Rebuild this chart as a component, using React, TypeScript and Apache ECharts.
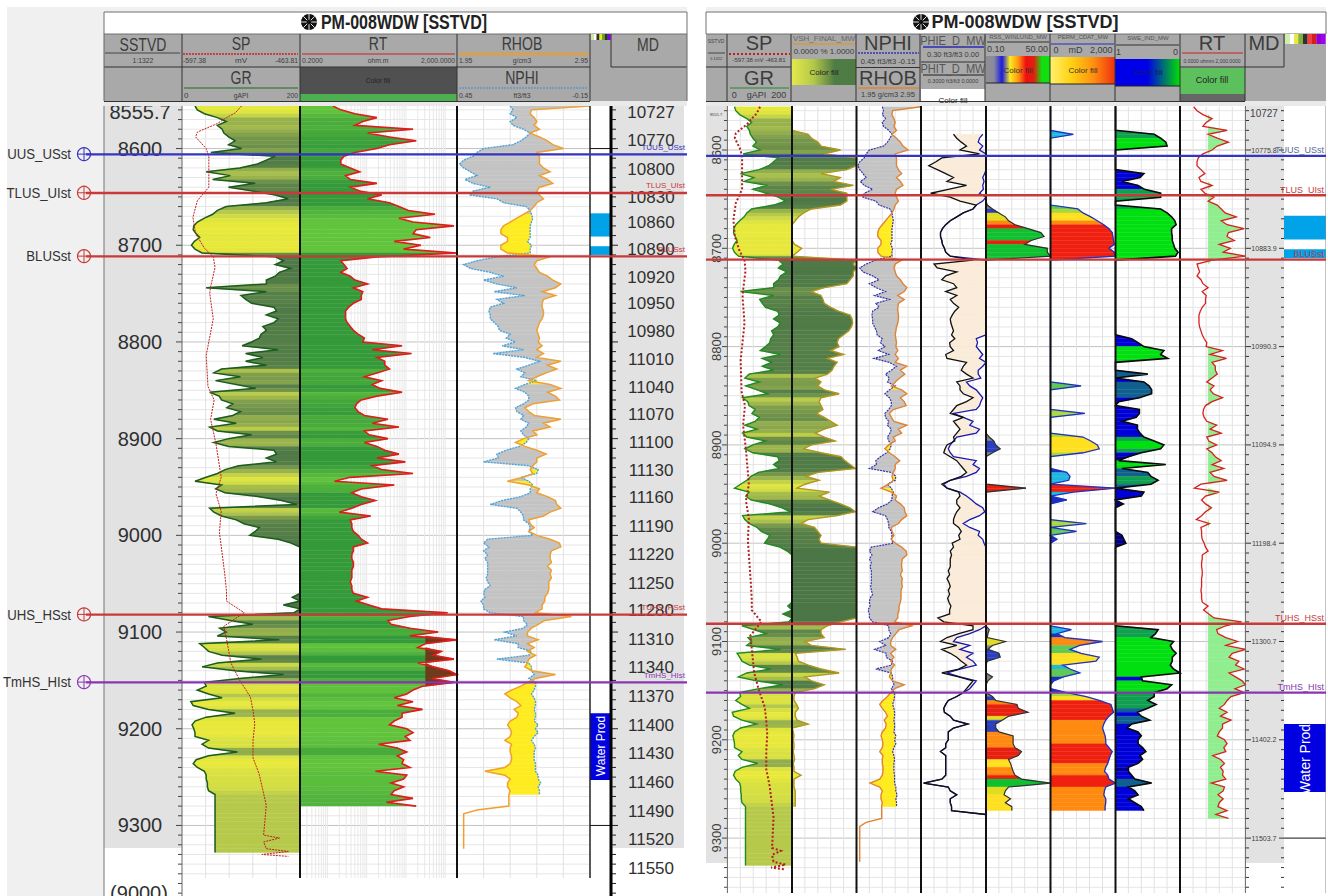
import React, { useEffect, useRef } from "react";
import * as echarts from "echarts";

// ---------- data: samples every 4 ft of SSTVD, starting at this depth ----------
const firstDepth = 8556;
const depthStep = 4;
const blank = (n: number) => new Array(n).fill(0);

const grApi = [
  22,26,38,60,75, 60,68,71,79,90, 79,101,49,158,143, 128,98,41,82,52, 124,79,120,158,180,
  143,75,60,52,38, 26,20,19,24,30, 21,16,22,34,158, 172,158,184,165,158, 143,143,41,143,100,
  108,118,156,160,143, 163,156,137,143,134, 131,118,102,163,108, 137,108,143,67,54, 99,57,92,125,47,
  63,67,86,76,99, 86,54,92,47,60, 118,79,54,79,156, 160,143,160,96,73, 60,41,22,67,57,
  73,131,169,195,47, 54,67,92,105,131, 124,115,163,185,200, 200,200,200,200,200, 200,200,200,200,200,
  200,200,187,200,172, 200,190,45,82,120, 64,75,60,165,30, 38,45,68,135,60, 34,90,172,98,38,
  41,26,45,68,15, 19,45,90,41,22, 17,20,22,22,45, 34,45,94,45,24, 19,26,38,41,41,
  43,43,45,56,56, 56,56,56,56,56, 56,56,56,56,56, 56,56,56,56,
];
const spDepths = [8556,8563,8568,8574,8583,8588,8600,8608,8619,8640,8654,8671,8688,8703,8712,8723,8743,8750,8776,8814,8846,8860,8880,8905,8940,8957,8975,8997,9040,9058,9068,9080,9094,9107,9132,9150,9167,9181,9195,9212,9230,9247,9279,9310,9313,9317,9324,9327,9330,9332];
const spMv = [-530,-537,-547,-557,-580,-582,-570,-567,-567,-567,-580,-585,-582,-572,-562,-560,-565,-566,-562,-570,-568,-561,-565,-559,-553,-559,-553,-555,-549,-547,-547,-527,-550,-547,-542,-532,-520,-517,-515,-517,-517,-510,-502,-505,-487,-505,-502,-477,-507,-477];
// positions below are percent of the track width on its printed scale
const rtPct = [
  21,26,35,49,40, 35,72,43,57,74, 57,49,35,28,26, 26,32,38,29,32, 49,32,38,52,43,
  57,63,69,86,63, 72,98,74,72,83, 60,77,66,100,49, 26,28,30,26,32, 35,43,34,40,39,
  39,34,31,29,29, 29,30,32,34,37, 41,40,65,46,71, 49,54,54,57,49, 41,52,46,51,65,
  49,39,36,35,37, 41,56,46,63,41, 44,56,41,49,54, 63,49,67,46,52, 72,32,22,60,39,
  33,39,48,39,33, 25,45,32,33,33, 34,37,39,43,34, 34,33,33,34,34, 33,33,33,32,33,
  33,34,43,36,44, 52,94,70,56,58, 70,88,70,100,80, 75,90,85,98,75, 85,95,100,84,98,
  78,72,68,60,72, 62,78,65,65,60, 57,68,72,67,70, 50,62,68,62,66, 65,70,48,68,66,
  58,66,60,58,72, 55,74,
];
const rhobPct = [
  100,56,55,58,60, 58,62,55,62,68, 72,80,60,62,62, 62,65,70,62,68, 72,62,60,62,65,
  60,58,55,50,45, 40,35,33,33,38, 38,33,33,38,70, 60,58,60,62,68, 72,78,74,64,74,
  65,64,64,65,65, 64,62,61,60,61, 62,61,64,60,65, 60,78,68,75,67, 60,54,70,78,68,
  74,77,57,51,54, 58,78,65,70,57, 60,50,44,51,60, 67,60,60,57,55, 57,50,38,54,62,
  60,68,74,75,78, 70,65,54,55,58, 54,60,70,77,78, 71,70,70,71,68, 71,70,71,69,69,
  69,68,66,66,64, 64,59,86,66,61, 56,53,53,61,53, 58,53,59,54,53, 51,56,74,59,53,
  48,41,36,40,45, 48,43,46,45,40, 38,40,41,40,36, 41,40,40,41,41, 40,36,21,36,40,
  38,38,40,39,39, 39,39,15,5,5, 5,5,5,5,5, 5,5,5,
];
const nphiPct = [
  40,42,40,45,40, 42,50,55,52,48, 42,20,15,12,5, 2,5,10,15,6, 12,25,12,10,30,
  35,52,55,56,57, 56,55,55,55,55, 53,56,55,55,30, 15,5,10,25,35, 20,30,45,28,51,
  30,35,25,24,25, 25,28,31,32,40, 37,44,34,50,27, 51,62,54,45,51, 48,60,51,44,51,
  54,54,50,44,45, 50,48,54,52,48, 50,54,52,47,37, 30,31,20,54,61, 60,48,54,57,55,
  55,48,34,25,45, 48,50,50,54,55, 54,57,23,20,24, 20,23,21,23,23, 23,23,22,23,25,
  21,20,21,18,20, 20,25,50,50,53, 50,36,45,28,46, 46,56,54,30,54, 56,56,58,54,59,
  59,58,56,58,59, 59,58,59,59,58, 61,59,61,58,56, 58,59,58,58,58, 59,59,59,61,61,
  63,61,62,62,
];
const vshFinal = [
  0,0,0,0,0, 0,0,.25,.3,.4, .45,.75,.5,1,1, 1,.85,.45,.75,.65, .95,.6,.85,.85,.85,
  .75,.3,.18,.1,.05, 0,0,0,0,0, .04,.15,.08,0,1, .95,1,.95,.95,.9, .85,.5,.3,.45,.48,
  .5,.6,.72,.9,.93, .94,.92,.88,.8,.72, .7,.73,.6,.8,.55, .7,.65,.62,.55,.36, .45,.4,.5,.73,.45,
  .42,.45,.48,.38,.5, .6,.7,.5,.36,.5, .67,.3,.18,.45,.76, .82,.9,.98,.4,.22, .42,.2,.08,.58,.42,
  .58,.75,.9,.98,.7, .25,.14,.35,.4,.45, .42,.45,1,1,1, 1,1,1,1,1, 1,1,1,1,1,
  1,1,1,1,1, 1,.75,.55,.45,.45, .5,.2,.3,.83,.05, .08,.1,.25,.45,.73, .2,.3,.5,.35,.05,
  .03,.03,.07,.1,.05, .05,.08,.25,0,.02, .03,.02,.03,.03,.02, .03,.04,.02,.03,.03, .14,.03,.03,.03,.05,
  .05,.05,.05,.05,
];
const _ = null;
const phitPos = [
  _,_,_,_,_, _,_,.5,.55,.62, .7,.6,.9,.32,.23, .12,.25,.38,.5,.4, .7,.42,.15,.45,.6,
  .85,.8,.65,.55,.45, .38,.33,.3,.3,.32, .33,.36,.38,.45,.8, .2,.25,.55,.38,.32, .5,.55,.38,.55,.45,
  .5,.58,.52,.48,.45, .46,.48,.5,.47,.52, .44,.45,.5,.38,.4, .7,.65,.62,.7,.8, .55,.6,.6,.65,.8,
  .7,.55,.5,.45,.65, .5,.55,.6,.55,.5, .52,.4,.37,.35,.45, .55,.6,.65,.7,.62, .45,.32,.4,.58,.6,
  .55,.55,.6,.55,.52, .5,.5,.58,.62,.58, .6,.48,.5,.45,.47, .45,.45,.45,.42,.44, .4,.43,.45,.42,.44,
  .41,.43,.46,.44,.44, .26,.35,.8,.8,.58, .4,.3,.55,.32,.45, .55,.62,.7,.58,.32, .58,.8,.75,.7,.65,
  .55,.42,.38,.35,.36, .45,.5,.72,.5,.42, .42,.42,.38,.38,.3, .38,.38,.38,.38,.38, .38,.32,.04,.42,.45,
  .55,.45,.45,.47,.47,1,
];
const phiePos = [
  _,_,_,_,_, _,_,.95,.9,.88, .95,.9,1,1,1, 1,1,.98,.95,.97, .95,.96,.9,1,.95,
  .85,.8,.65,.55,.45, .38,.33,.3,.3,.32, .33,.36,.38,.45,1, 1,1,1,1,1, 1,1,1,1,1,
  1,1,1,1,1, 1,1,1,1,.85, .87,.85,.9,.95,.9, 1,.95,.88,.88,.92, .7,.75,.85,.9,.95,
  .92,.9,.85,.5,.65, .8,.75,.9,.85,.55, .5,.45,.42,.45,.5, .85,.8,.9,.85,.7, .45,.35,.4,.6,.7,
  .78,.85,.95,.98,.9, .75,.65,.75,.9,.88, .95,.97,1,1,1, 1,1,1,1,1, 1,1,1,1,1,
  1,1,1,1,1, 1,1,1,.9,.75, .55,.5,.75,.6,.8, .7,.8,.85,.6,.4, .6,.85,.8,.75,.65,
  .55,.42,.38,.35,.36, .45,.5,.72,.5,.42, .42,.42,.38,.38,.3, .38,.38,.38,.38,.38, .38,.32,.04,.42,.45,
  .55,.45,.45,.47,.47,1,
];
const rssPos = [
  ...blank(25),
  .02,.1,.2,.3,.35, .45,.65,.85,.9,.7, .6,.95,.95,1,0, ...blank(10),
  ...blank(25),
  0,0,0,0,0, 0,0,0,0,.05, .12,.15,.22,.1,0, 0,0,0,0,0, 0,0,.62,0,0,
  ...blank(25),
  0,0,0,0,0, 0,0,0,.05,.03, .02,.3,.1,.03,.2, .22,.02,0,0,0, .1,.03,0,0,0,
  .1,.15,.48,.5,.65, .35,.25,.15,.15,.2, .42,.42,.42,.45,.55, .5,.35,.38,.4,.42, .45,.55,1,.35,.3,
  .28,.38,.3,.4,.4,
];
const permPos = [
  0,0,0,0,0, 0,0,.35,0,0, ...blank(15),
  0,.42,.5,.62,.72, .82,.9,.95,.96,.97, .98,.9,.98,1,0, ...blank(10),
  ...blank(20), 0,.47,0,0,0,
  0,0,0,.53,0, 0,0,0,0,.5, .62,.72,.75,.5,0, 0,0,0,.25,.3, .28,0,1,.35,0,
  .25,0,0,0,0, 0,.55,0,.4,0, .1,0,0,0,0, ...blank(10),
  0,0,0,0,0, 0,0,0,.32,.1, .22,.8,.45,.3,.47, .75,.7,.19,.3,.45, .2,.05,0,0,.25,
  .55,.75,.93,.95,.97, .9,.85,.82,.8,.82, .84,.85,.85,.9,.95, .92,.9,.88,.85,.83, .88,.9,1,.85,.83,
  .82,.85,.85,.84,.84,
];
const swePos = [
  0,0,0,0,0, 0,0,.6,.7,.78, .8,0,0,0,0, 0,0,.44,.38,.1, .35,.45,.7,.7,0,
  0,.7,.8,.87,.92, .94,.87,.87,.88,.88, .9,.92,.97,.93,0, ...blank(10),
  0,0,0,0,0, 0,0,0,0,.25, .35,.44,.75,.7,.81, 0,0,0,.5,0, .44,.52,.56,.56,.37,
  .05,0,.37,.37,.32, .1,.34,.34,.38,.44, .6,.75,.7,.4,.2, .05,.78,.1,.5,.55, .66,.55,0,.44,.4,
  0,.12,0,0,0, 0,0,0,0,.1, .13,.16,0,0,0, ...blank(10),
  0,0,0,0,0, 0,0,0,.66,.62, .55,.9,.85,.88,.94, .88,.88,.85,.9,1, .4,.42,.87,.8,.6,
  .6,.5,.63,.5,.34, .4,.53,.25,.18,.35, .4,.35,.35,.42,.47, .38,.42,.35,.2,.2, .25,.3,.56,.2,.3,
  .35,.2,.3,.4,.44,
];

const topDepths = [8606, 8646, 8711.5, 9082, 9152];
const topColors = ["#3535c0", "#c83a3a", "#c83a3a", "#c83a3a", "#8a35b0"];
const topLeftNames = ["UUS_USst", "TLUS_UIst", "BLUSst", "UHS_HSst", "TmHS_HIst"];
const topRightNames = ["TUUS_USst", "TLUS_UIst", "BLUSst", "TUHS_HSst", "TmHS_HIst"];
const zoneTops = [8667, 8701, 9184];
const zoneBases = [8691, 8710, 9253];
const zoneColors = ["#00a2e8", "#00a2e8", "#0000e0"];
const sstvdTicks = [8562.4, 8600, 8700, 8800, 8900, 9000, 9100, 9200, 9300];
const sstvdText = ["8555.7", "8600", "8700", "8800", "8900", "9000", "9100", "9200", "9300"];
const mdTickDepths = [8562.4,8591.4,8621.4,8650.4,8676.2,8704.1,8733.1,8760,8789,8818,8846.9,8874.8,8903.7,8932.7,8960.6,8990.6,9019.6,9049.5,9077.4,9107.4,9136.4,9166.4,9196.3,9225.3,9255.3,9285.3,9314.2,9344.2];
const mdText = ["10727","10770","10800","10830","10860","10890","10920","10950","10980","11010","11040","11070","11100","11130","11160","11190","11220","11250","11280","11310","11340","11370","11400","11430","11460","11490","11520","11550"];
const mdRightDepths = [8562.4, 8600, 8700, 8800, 8900, 9000, 9100, 9200, 9300];
const mdRightText = ["10727", "10775.8", "10883.9", "10990.3", "11094.9", "11198.4", "11300.7", "11402.2", "11503.7"];

const SANS = "'Liberation Sans', Arial, sans-serif";
const dep = (i: number) => firstDepth + depthStep * i;

function mix(stops: [number, number[]][], v: number) {
  if (v <= stops[0][0]) return `rgb(${stops[0][1].join(",")})`;
  for (let i = 1; i < stops.length; i++) {
    if (v <= stops[i][0]) {
      const t = (v - stops[i - 1][0]) / (stops[i][0] - stops[i - 1][0]);
      const c = stops[i][1].map((x, k) => Math.round(stops[i - 1][1][k] + (x - stops[i - 1][1][k]) * t));
      return `rgb(${c.join(",")})`;
    }
  }
  return `rgb(${stops[stops.length - 1][1].join(",")})`;
}
const grShade = (g: number) => mix([[22,[232,233,58]],[42,[214,224,66]],[58,[178,198,76]],[78,[124,156,76]],[105,[88,130,72]],[185,[76,118,70]]], g);
const rtShade = (g: number) => mix([[30,[98,196,60]],[60,[80,178,60]],[95,[52,154,58]]], g);
const rssShade = (q: number) => q < .13 ? "#858585" : q < .28 ? "#2a3fc0" : q < .36 ? "#e0dc20" : q < .42 ? "#ffe020" : q < .5 ? "#ff8a10" : q < .8 ? "#e82010" : "#10c030";
const permShade = (q: number) => q < .27 ? "#1a30c0" : q < .38 ? "#20b8e0" : q < .5 ? "#60c858" : q < .62 ? "#a8d840" : q < .78 ? "#ffe020" : q < .9 ? "#ff8a10" : "#f02010";
const sweShade = (q: number) => q < .25 ? "#000090" : q < .5 ? "#0000d8" : q < .6 ? "#106090" : q < .72 ? "#10a050" : "#00e010";

type Row = { d0: number; d1: number; a0: number; a1: number; b0: number; b1: number; c: string };
function bandRows(n: number, a: (i: number) => any, b: (i: number) => any, color: (i: number) => string | null): Row[] {
  const rows: Row[] = [];
  for (let i = 0; i + 1 < n; i++) {
    const a0 = a(i), a1 = a(i + 1), b0 = b(i), b1 = b(i + 1);
    if (a0 == null || a1 == null || b0 == null || b1 == null) continue;
    if (a0 === b0 && a1 === b1) continue;
    const c = color(i);
    if (!c) continue;
    rows.push({ d0: dep(i), d1: dep(i + 1), a0, a1, b0, b1, c });
  }
  return rows;
}

function buildOption() {
  const grid: any[] = [], xAxis: any[] = [], yAxis: any[] = [], series: any[] = [], gfx: any[] = [];

  const T = (x: number, y: number, text: string, size: number, o: any = {}) => gfx.push({
    type: "text", x, y, z: o.z ?? 14, scaleX: o.sx ?? 1, rotation: o.rot ?? 0, silent: true,
    style: { text, fontSize: size, fontFamily: SANS, fill: o.color ?? "#3c3c3c", align: o.align ?? "center", verticalAlign: "middle", fontWeight: o.bold ? "bold" : "normal" },
  });
  const R = (x0: number, y0: number, x1: number, y1: number, fill: any, z = 10, stroke?: string) => gfx.push({
    type: "rect", z, silent: true, shape: { x: x0, y: y0, width: x1 - x0, height: y1 - y0 }, style: { fill, stroke, lineWidth: stroke ? 1 : 0 },
  });
  const L = (x0: number, y0: number, x1: number, y1: number, stroke: string, w = 1, dash?: number[], z = 13) => gfx.push({
    type: "line", z, silent: true, shape: { x1: x0, y1: y0, x2: x1, y2: y1 }, style: { stroke, lineWidth: w, lineDash: dash },
  });
  const H = (colors: string[], x0: number, y0: number, x1: number, y1: number) => {
    const stops = colors.map((color, i) => ({ offset: i / (colors.length - 1), color }));
    R(x0, y0, x1, y1, new (echarts as any).graphic.LinearGradient(0, 0, 1, 0, stops), 12);
  };

  const addTrack = (x0: number, x1: number, p: any, yExtra: any = { show: false }) => {
    const i = grid.length;
    grid.push({ left: x0, width: x1 - x0, top: p.top, height: p.height, show: false });
    xAxis.push({ type: "value", gridIndex: i, min: p.xmin ?? 0, max: p.xmax ?? 100, show: false });
    yAxis.push({ type: "value", gridIndex: i, min: p.dmin, max: p.dmax, inverse: true, splitLine: { show: false }, axisTick: { show: false }, axisLine: { show: false }, ...yExtra });
    return i;
  };
  const line = (g: number, pts: any[], color: string, width: number, type: any = "solid", z = 4, clip = true) => series.push({
    type: "line", xAxisIndex: g, yAxisIndex: g, data: pts, showSymbol: false, symbol: "none", silent: true, z, clip,
    lineStyle: { color, width, type, join: "miter" }, animation: false,
  });
  const band = (g: number, rows: Row[], z = 2) => series.push({
    type: "custom", coordinateSystem: "cartesian2d", xAxisIndex: g, yAxisIndex: g, clip: true, silent: true, z,
    encode: { x: 0, y: 1 }, data: rows.map((r) => [r.a0, r.d0]),
    renderItem: (params: any, api: any) => {
      const r = rows[params.dataIndex];
      const pts = [api.coord([r.a0, r.d0]), api.coord([r.a1, r.d1]), api.coord([r.b1, r.d1]), api.coord([r.b0, r.d0])];
      return { type: "polygon", shape: { points: pts }, style: { fill: r.c, stroke: r.c, lineWidth: 0.4 } };
    },
  });
  const segments = (g: number, segs: any[], z = 1) => series.push({
    type: "custom", coordinateSystem: "cartesian2d", xAxisIndex: g, yAxisIndex: g, clip: true, silent: true, z,
    encode: { x: 0, y: 1 }, data: segs.map((s) => [s[0], s[1]]),
    renderItem: (params: any, api: any) => {
      const s = segs[params.dataIndex];
      const a = api.coord([s[0], s[1]]), b = api.coord([s[2], s[3]]);
      return { type: "line", shape: { x1: a[0], y1: a[1], x2: b[0], y2: b[1] }, style: { stroke: s[4], lineWidth: s[5] } };
    },
  });
  const rects = (g: number, rows: any[], z = 2) => series.push({
    type: "custom", coordinateSystem: "cartesian2d", xAxisIndex: g, yAxisIndex: g, clip: true, silent: true, z,
    encode: { x: 0, y: 1 }, data: rows.map((r) => [0, r[0]]),
    renderItem: (params: any, api: any) => {
      const r = rows[params.dataIndex];
      const a = api.coord([0, r[0]]), b = api.coord([100, r[1]]);
      return { type: "rect", shape: { x: a[0], y: a[1], width: b[0] - a[0], height: b[1] - a[1] }, style: { fill: r[2] } };
    },
  });

  const pts = (arr: any[], f: (v: number) => number = (v) => v) => arr.map((v, i) => (v == null ? null : [f(v), dep(i)])).filter(Boolean);
  const gr = (i: number) => (i < grApi.length ? grApi[i] : null);
  const grPct = (g: number) => g / 2;
  const spPct = (v: number) => ((v + 597.38) / 133.57) * 100;
  const spPts = spDepths.map((d, i) => [spPct(spMv[i]), d]);
  const grFill = bandRows(grApi.length, (i) => grPct(gr(i) as number), () => 100, (i) => (gr(i)! >= 199 && gr(i + 1)! >= 199 ? null : grShade(((gr(i) as number) + (gr(i + 1) as number)) / 2)));
  const rhobFill = bandRows(nphiPct.length, (i) => rhobPct[i], (i) => nphiPct[i], (i) => (rhobPct[i] < nphiPct[i] ? "#ffec20" : "#c4c4c4"));
  const fracFill = (arr: number[], shade: (q: number) => string) => bandRows(arr.length, (i) => arr[i] * 100, () => 0, (i) => (arr[i] === 0 && arr[i + 1] === 0 ? null : shade(Math.max(arr[i], arr[i + 1]))));
  const centiLine = (arr: any[]) => pts(arr, (v) => v * 100);

  // ---- page and panel backgrounds
  R(7, 7, 687, 896, "#f0f0f0", -1);
  R(104, 106, 687, 896, "#ffffff", -1);
  R(104, 106, 182, 848, "#e2e2e2", -1);
  R(612, 106, 684, 848, "#e2e2e2", -1);
  R(706, 7, 1326, 12, "#f0f0f0", -1);
  R(706, 106, 727, 863, "#e2e2e2", -1);
  R(1245, 106, 1284, 863, "#e2e2e2", -1);

  // ---- LEFT PANEL
  const pL = { top: 106, height: 790, dmin: firstDepth, dmax: firstDepth + 790 / 0.967 };
  const baseL = addTrack(86, 687, { ...pL, xmin: 86, xmax: 687 });
  const lSegs: any[] = [];
  const hLines = (segs: any[], x0: number, x1: number, dEnd: number) => {
    for (let d = 8560; d <= dEnd; d += 10) segs.push([x0, d, x1, d, d % 100 === 0 ? "#c2c2c2" : "#e6e6e6", 1]);
  };
  hLines(lSegs, 182, 590, 9350);
  const vLines = (segs: any[], x0: number, x1: number, dEnd: number) => {
    for (let k = 1; k < 5; k++) { const x = x0 + ((x1 - x0) * k) / 5; segs.push([x, firstDepth, x, dEnd, "#e2e2e2", 1]); }
  };
  const dEndL = firstDepth + 772 / 0.967;
  vLines(lSegs, 182, 300, dEndL);
  vLines(lSegs, 457, 590, dEndL);
  for (const v of [.3,.4,.5,.6,.7,.8,.9,1,2,3,4,5,6,7,8,9,10,20,30,40,50,60,70,80,90,100,200,300,400,500,600,700,800,900,1000]) {
    const x = 300 + (157 * 25 * Math.log10(v / 0.2)) / 100;
    lSegs.push([x, firstDepth, x, dEndL, "#e8e8e8", 1]);
  }
  for (let d = 8560; d <= 9370; d += 10) {
    const big = d % 100 === 0 ? 2 : 0;
    lSegs.push([178 - big, d, 182, d, "#444", 1]);
    lSegs.push([612, d, 616 + big, d, "#222", 1]);
  }
  segments(baseL, lSegs, 1);

  addTrack(104, 182, pL, {
    show: true, position: "left", z: 3,
    axisLabel: { show: true, inside: true, margin: 36, align: "center", verticalAlign: "middle", fontSize: 20, color: "#303030", fontFamily: SANS, customValues: sstvdTicks, formatter: (v: number) => sstvdText[sstvdTicks.indexOf(v)] ?? "" },
  });
  addTrack(612, 687, pL, {
    show: true, position: "left", z: 3,
    axisLabel: { show: true, inside: true, margin: 39, align: "center", verticalAlign: "middle", fontSize: 17, color: "#303030", fontFamily: SANS, customValues: mdTickDepths, formatter: (v: number) => mdText[mdTickDepths.indexOf(v)] ?? "" },
  });

  const gSP = addTrack(182, 300, pL);
  band(gSP, grFill, 2);
  line(gSP, pts(grApi, grPct), "#1c5c1c", 1.5, "solid", 4);
  line(gSP, spPts, "#c02020", 1, [2, 1], 5);

  const gRT = addTrack(300, 457, pL);
  band(gRT, bandRows(rtPct.length, (i) => rtPct[i], () => 0, (i) => rtShade(((gr(i) as number) + (gr(i + 1) as number)) / 2)), 2);
  band(gRT, bandRows(rtPct.length, (i) => (dep(i) > 9100 && dep(i) < 9160 ? Math.max(rtPct[i], 80) : null), () => 80, () => "#6e3a1c"), 3);
  line(gRT, pts(rtPct), "#e01c1c", 1.6, "solid", 4);

  const gRH = addTrack(457, 590, pL);
  band(gRH, rhobFill, 2);
  line(gRH, pts(nphiPct), "#4aa4e0", 1.4, [2, 1], 4);
  line(gRH, pts(rhobPct), "#f0a030", 1.5, "solid", 5);

  const gZoneL = addTrack(590, 611, pL);
  rects(gZoneL, zoneTops.map((t, i) => [t, zoneBases[i], zoneColors[i]]), 2);
  segments(baseL, [[590, 8600, 611, 8600, "#111", 1], [590, 9300, 611, 9300, "#111", 1]], 3);

  segments(baseL, [
    [300, firstDepth, 300, dEndL, "#111", 2], [457, firstDepth, 457, dEndL, "#111", 2], [590, firstDepth, 590, dEndL, "#222", 1.5],
    [611, firstDepth, 611, 9400, "#000", 3], [182, firstDepth, 182, 9400, "#666", 1], [104, firstDepth, 104, 9400, "#777", 1],
  ], 6);
  segments(baseL, topDepths.map((d, i) => [86, d, 687, d, topColors[i], 2.4]), 7);

  const circle = (x: number, y: number, c: string) => {
    gfx.push({ type: "circle", z: 14, silent: true, shape: { cx: x, cy: y, r: 6.5 }, style: { fill: "rgba(255,255,255,0)", stroke: c, lineWidth: 1.2 } });
    L(x, y - 6.5, x, y + 6.5, c, 1, undefined, 14);
    L(x - 6.5, y, x + 6.5, y, c, 1, undefined, 14);
  };
  topDepths.forEach((d, i) => {
    const y = 148.3 + (d - 8600) * 0.967;
    circle(84, y, topColors[i]);
    T(71, y, topLeftNames[i], 15, { align: "right", sx: 0.88, color: "#333" });
    T(685, y - 7, topRightNames[i], 8, { align: "right", color: topColors[i], z: 9 });
  });
  T(139, 893, "(9000)", 20, { color: "#303030", z: 9 });

  // left headers
  R(104, 34, 687, 101, "#a9a9a9", 10);
  R(104, 12, 687, 34, "#ffffff", 10, "#707070");
  R(104, 101, 687, 106, "#e9e9e9", 10);
  for (const x of [182, 300, 457, 590]) L(x, 34, x, 101, "#333");
  L(611, 34, 611, 67, "#333");
  L(104, 67, 590, 67, "#333"); L(611, 67, 687, 67, "#333");
  L(104, 101.5, 590, 101.5, "#333"); L(104, 34, 104, 101, "#666"); L(687, 34, 687, 101, "#666");
  const sxL = 0.78;
  T(143, 44, "SSTVD", 18, { sx: sxL }); L(105, 53, 180, 53, "#444"); T(143, 60, "1:1322", 8, { sx: .85 });
  T(241, 43, "SP", 18, { sx: sxL }); L(183, 54, 298, 54, "#d02020", 1.4, [2, 1]);
  T(183, 60, "-597.38", 8, { align: "left", sx: .85 }); T(241, 60, "mV", 8); T(298, 60, "-463.81", 8, { align: "right", sx: .85 });
  T(241, 77, "GR", 18, { sx: sxL }); L(184, 88, 298, 88, "#1c6c1c", 1.2);
  T(184, 95, "0", 8, { align: "left" }); T(241, 95, "gAPI", 8, { sx: .85 }); T(298, 95, "200", 8, { align: "right", sx: .85 });
  T(378, 43, "RT", 18, { sx: sxL }); L(302, 54, 455, 54, "#d02020", 1.2);
  T(302, 60, "0.2000", 8, { align: "left", sx: .85 }); T(378, 60, "ohm.m", 8, { sx: .85 }); T(455, 60, "2,000.0000", 8, { align: "right", sx: .85 });
  R(300, 67, 457, 94, "#505050", 11); R(300, 94, 457, 101, "#4caf50", 11); T(378, 80, "Color fill", 8, { color: "#222", sx: .85 });
  T(522, 43, "RHOB", 18, { sx: sxL }); L(459, 54, 589, 54, "#d8a050", 3);
  T(459, 60, "1.95", 8, { align: "left", sx: .85 }); T(522, 60, "g/cm3", 8, { sx: .85 }); T(588, 60, "2.95", 8, { align: "right", sx: .85 });
  T(522, 77, "NPHI", 18, { sx: sxL }); L(459, 88, 588, 88, "#3a90d0", 1.2, [2, 1]);
  T(459, 95, "0.45", 8, { align: "left", sx: .85 }); T(522, 95, "ft3/ft3", 8, { sx: .85 }); T(588, 95, "-0.15", 8, { align: "right", sx: .85 });
  T(648, 44, "MD", 18, { sx: sxL });
  ["#cfe8a0","#ffffff","#303030","#e8e820","#60a020","#303030","#8000f0"].forEach((c, i) => R(591 + i * 2.8, 34, 591 + (i + 1) * 2.8, 40, c, 12));
  T(404, 22, "PM-008WDW [SSTVD]", 20, { bold: true, sx: .8, color: "#222" });
  const icon = (x: number, y: number, r: number) => {
    gfx.push({ type: "circle", z: 14, silent: true, shape: { cx: x, cy: y, r }, style: { fill: "#111" } });
    for (let k = 0; k < 4; k++) {
      const t = (k * Math.PI) / 4;
      L(x - r * Math.cos(t), y - r * Math.sin(t), x + r * Math.cos(t), y + r * Math.sin(t), "#fff", 0.9, undefined, 14);
    }
    gfx.push({ type: "circle", z: 14, silent: true, shape: { cx: x, cy: y, r: r * 0.3 }, style: { fill: "#111" } });
  };
  icon(309, 22, 8);
  T(600.5, 746, "Water Prod", 12, { rot: Math.PI / 2, color: "#fff", z: 14 });

  // ---- RIGHT PANEL
  const kR = 0.983;
  const dminR = 8600 - (150 - 106) / kR;
  const pR = { top: 106, height: 790, dmin: dminR, dmax: dminR + 790 / kR };
  const dEndR = dminR + 787 / kR;
  const baseR = addTrack(706, 1326, { ...pR, xmin: 706, xmax: 1326 });
  const rSegs: any[] = [];
  hLines(rSegs, 727, 1245, 9350);
  const xs = [727.4, 792, 856.5, 921, 986, 1050.5, 1115.5, 1180, 1245.4];
  for (let i = 0; i + 1 < xs.length; i++) vLines(rSegs, xs[i], xs[i + 1], dEndR);
  for (let d = 8560; d <= 9350; d += 10) {
    const big = d % 100 === 0 ? 2 : 0;
    rSegs.push([724 - big, d, 727, d, "#444", 1]);
    rSegs.push([1245, d, 1249 + big, d, "#333", 1]);
    rSegs.push([1281 - big, d, 1284, d, "#333", 1]);
  }
  segments(baseR, rSegs, 1);

  addTrack(706, 727, pR, {
    show: true, position: "left", z: 3,
    axisLabel: { show: true, inside: true, margin: 10, align: "center", verticalAlign: "middle", rotate: 90, fontSize: 13, color: "#404040", fontFamily: SANS, customValues: sstvdTicks.slice(1), formatter: (v: number) => sstvdText[sstvdTicks.indexOf(v)] ?? "" },
  });
  T(716, 114, "8555.7", 4, { color: "#404040", z: 9 });
  addTrack(1245, 1284, pR, {
    show: true, position: "left", z: 3,
    axisLabel: {
      show: true, inside: true, margin: 19, align: "center", verticalAlign: "middle", fontSize: 7, color: "#404040", fontFamily: SANS, customValues: mdRightDepths,
      formatter: (v: number) => { const t = mdRightText[mdRightDepths.indexOf(v)] ?? ""; return t === "10727" ? `{big|${t}}` : t; },
      rich: { big: { fontSize: 10, color: "#404040", fontFamily: SANS } },
    },
  });

  const gA = addTrack(xs[0], xs[1], pR);
  band(gA, grFill, 2);
  line(gA, pts(grApi, grPct), "#1f8a1f", 1.4, "solid", 4);
  line(gA, spPts, "#b02020", 2, [2, 2], 5);

  const gB = addTrack(xs[1], xs[2], pR);
  band(gB, bandRows(vshFinal.length, (i) => vshFinal[i] * 100, () => 0, (i) => (vshFinal[i] === 0 && vshFinal[i + 1] === 0 ? null : grShade(((gr(i) as number) + (gr(i + 1) as number)) / 2))), 2);
  line(gB, centiLine(vshFinal), "#b4951f", 1.4, "solid", 4);

  const gC = addTrack(xs[2], xs[3], pR);
  band(gC, rhobFill, 2);
  line(gC, pts(nphiPct), "#3434b4", 1.2, [2, 1], 4);
  line(gC, pts(rhobPct), "#e08434", 1.4, "solid", 5);

  const gD = addTrack(xs[3], xs[4], pR);
  band(gD, bandRows(phitPos.length, (i) => (phitPos[i] == null ? null : (phitPos[i] as number) * 100), (i) => (phiePos[i] == null ? null : (phiePos[i] as number) * 100), () => "#faecd9"), 2);
  line(gD, centiLine(phiePos), "#1a1ab0", 1.3, "solid", 4);
  line(gD, centiLine(phitPos), "#101010", 1.3, "solid", 4);

  const gE = addTrack(xs[4], xs[5], pR);
  band(gE, fracFill(rssPos, rssShade), 2);
  line(gE, centiLine(rssPos), "#303030", 1.2, "solid", 4);

  const gF = addTrack(xs[5], xs[6], pR);
  band(gF, fracFill(permPos, permShade), 2);
  line(gF, centiLine(permPos), "#2030c0", 1.3, "solid", 4);

  const gG = addTrack(xs[6], xs[7], pR);
  band(gG, fracFill(swePos, sweShade), 2);
  line(gG, centiLine(swePos), "#0a0a0a", 1.6, "solid", 4);

  const gH = addTrack(xs[7], xs[8], pR);
  band(gH, bandRows(rtPct.length, (i) => Math.max(rtPct[i], 43), () => 43, () => "#90ee90"), 2);
  line(gH, pts(rtPct), "#d82020", 1.3, "solid", 4);

  const gZoneR = addTrack(1284, 1326, pR);
  rects(gZoneR, zoneTops.map((t, i) => [t, zoneBases[i], zoneColors[i]]), 2);
  segments(baseR, [[1284, 9300, 1326, 9300, "#111", 1]], 3);

  segments(baseR, [
    ...xs.slice(1, 8).map((x) => [x, dminR, x, dEndR, "#111", 2]),
    [727.4, dminR, 727.4, dEndR, "#666", 1], [1245.4, dminR, 1245.4, dEndR, "#666", 1],
    [1326, dminR, 1326, dEndR, "#888", 1],
  ], 6);
  segments(baseR, topDepths.map((d, i) => [706, d, 1326, d, topColors[i], 2.4]), 7);
  topDepths.forEach((d, i) => {
    const y = 150 + (d - 8600) * kR;
    T(1324, y - 5.5, topRightNames[i], 9, { align: "right", color: i === 0 ? "#5a6a90" : topColors[i], z: 9 });
  });
  T(1305, 759, "Water Prod", 14, { rot: Math.PI / 2, color: "#fff", z: 14 });

  // right headers
  R(706, 34, 1326, 101, "#a9a9a9", 10);
  R(706, 12, 1326, 34, "#ffffff", 10, "#707070");
  R(706, 101, 1326, 106, "#e9e9e9", 10);
  for (const x of [727, 791, 856, 920, 985, 1050, 1115, 1180, 1245]) L(x, 34, x, 101, "#333");
  L(1284, 34, 1284, 67, "#333");
  L(706, 67, 791, 67, "#333"); L(856, 67.5, 920, 67.5, "#333"); L(1180, 67, 1284, 67, "#333");
  L(706, 101.5, 1245, 101.5, "#333");
  T(716, 41, "SSTVD", 5, { color: "#444" }); L(708, 53, 725, 53, "#444"); T(716, 58, "1:1322", 4);
  T(759, 43, "SP", 20); L(729, 54, 790, 54, "#c02020", 2, [2, 2]); T(759, 60, "-597.38 mV -463.81", 6);
  T(759, 78, "GR", 20); L(730, 88, 789, 88, "#2a8a2a", 1.2); T(759, 95, "0    gAPI  200", 9);
  T(824, 38, "VSH_FINAL_MW", 8, { color: "#666" }); L(793, 44, 855, 44, "#d49a40", 1.4); T(824, 51, "0.0000 % 1.0000", 8);
  H(["#e4e84a", "#b4c848", "#4f7c44", "#4f7c44"], 792, 59, 856, 85); T(824, 72, "Color fill", 8, { color: "#222" });
  T(888, 43, "NPHI", 20); L(858, 53, 919, 53, "#3434b4", 1.4, [2, 1]); T(888, 61, "0.45 ft3/ft3 -0.15", 7.5);
  T(888, 78, "RHOB", 20); L(858, 88, 919, 88, "#e08434", 1.6); T(888, 94, "1.95 g/cm3 2.95", 7.5);
  T(953, 41, "PHIE_D_MW", 13, { sx: .85, color: "#555" }); L(923, 47, 984, 47, "#2a2ac0", 1.4); T(953, 54, "0.30 ft3/ft3 0.00", 7.5);
  L(921, 62, 985, 62, "#333");
  T(953, 69, "PHIT_D_MW", 13, { sx: .85, color: "#555" }); L(923, 75, 984, 75, "#222", 1); T(953, 81, "0.3000 ft3/ft3 0.0000", 5.5);
  R(921, 89, 985, 101, "#ffffff", 12); T(953, 100, "Color fill", 8, { color: "#222" });
  T(1018, 37, "RSS_WINLUND_MW", 6, { color: "#555" }); L(987, 42, 1049, 42, "#333", 1); T(987, 49, "0.10", 9, { align: "left" }); T(1048, 49, "50.00", 9, { align: "right" });
  H(["#909090", "#8a8aa0", "#1a1ae0", "#f8ec20", "#ff9a10", "#f01010", "#e02010", "#10e010", "#10e010"], 986, 56, 1050, 83); T(1018, 70, "Color fill", 8, { color: "#333" });
  L(986, 83, 1050, 83, "#222");
  T(1083, 37, "PERM_CDAT_MW", 6, { color: "#555" }); L(1051, 44, 1114, 44, "#2a2ac0", 1.2); T(1083, 50, "0    mD   2,000", 9);
  H(["#fff070", "#ffd010", "#ff9010", "#f03010"], 1050, 57, 1115, 84); T(1083, 70, "Color fill", 8, { color: "#333" });
  L(1050, 84, 1115, 84, "#222");
  T(1148, 38, "SWE_IND_MW", 6, { color: "#555" }); L(1116, 45, 1179, 45, "#333", 1); T(1116, 52, "1", 9, { align: "left" }); T(1178, 52, "0", 9, { align: "right" });
  H(["#0000e8", "#0000e8", "#00e000"], 1115, 59, 1180, 86); T(1148, 72, "Color fill", 8, { color: "#102060" });
  L(1115, 86, 1180, 86, "#222");
  T(1212, 43, "RT", 20); L(1182, 53, 1243, 53, "#d02020", 1.2); T(1212, 61, "0.0000 ohmm 2,000.0000", 5);
  R(1180, 68, 1245, 94, "#5cc05c", 11); R(1180, 94, 1245, 101, "#666666", 11); T(1212, 80, "Color fill", 9, { color: "#222" });
  T(1264, 43, "MD", 20);
  ["#d0f0a0","#ffffff","#e8e840","#80b040","#303030","#f04040","#d02020","#9000d0","#a000f0"].forEach((c, i) => R(1285 + i * 4.5, 34, 1285 + (i + 1) * 4.5, 44, c, 12));
  T(1025, 22, "PM-008WDW [SSTVD]", 18, { bold: true, color: "#222" });
  icon(921, 22, 8);

  return {
    animation: false, backgroundColor: "#ffffff", tooltip: { show: false }, legend: { show: false },
    grid, xAxis, yAxis, series, graphic: { elements: gfx },
  };
}

export default function App() {
  const ref = useRef<HTMLDivElement>(null);
  useEffect(() => {
    document.body.style.margin = "0";
    const chart = echarts.init(ref.current!, undefined, { renderer: "svg" });
    chart.setOption(buildOption() as any);
    return () => chart.dispose();
  }, []);
  return <div ref={ref} style={{ width: 1328, height: 896 }} />;
}
